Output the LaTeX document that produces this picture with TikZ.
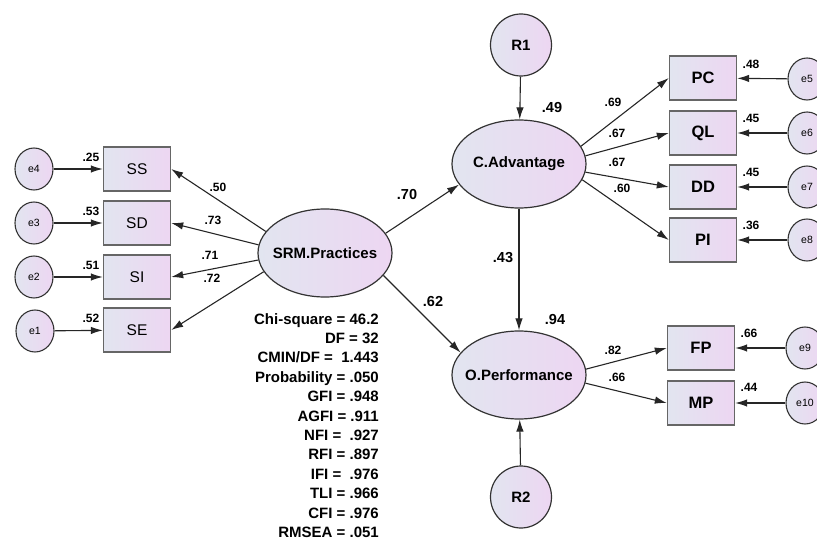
\documentclass[tikz,border=0pt]{standalone}
\usepackage{fontspec}
\setmainfont{Liberation Sans}
\usetikzlibrary{arrows.meta,shapes.geometric,positioning}
\definecolor{shadeL}{RGB}{226,229,240}
\definecolor{shadeR}{RGB}{237,214,242}
\tikzset{
    %Define standard arrow tip
    >={Latex[width=7.5pt,length=12pt]},
    %Define style for latent constructs
    latent/.style={
           ellipse,
           draw=black!80, line width=1.2pt,
           left color=shadeL, right color=shadeR,
           minimum width=134, minimum height=88,
           inner xsep=-10pt,
           font=\bfseries\fontsize{15}{18}\selectfont},
    resid/.style={
           ellipse,
           draw=black!80, line width=1.2pt,
           left color=shadeL, right color=shadeR,
           minimum width=61, minimum height=62,
           font=\bfseries\fontsize{15}{18}\selectfont},
    err/.style={
           ellipse,
           draw=black!80, line width=1.1pt,
           left color=shadeL, right color=shadeR,
           minimum width=38, minimum height=42, inner sep=0pt,
           font=\fontsize{10.5}{12}\selectfont},
    %Define style for indicator boxes
    ind/.style={
           rectangle,
           draw=black!60, line width=1.4pt,
           left color=shadeL, right color=shadeR,
           minimum width=67, minimum height=44,
           font=\fontsize{15.5}{18}\selectfont},
    indb/.style={
           ind,
           font=\bfseries\fontsize{16.5}{18}\selectfont},
    coef/.style={inner sep=1pt, font=\bfseries\fontsize{12}{14}\selectfont},
    coefbig/.style={inner sep=1pt, font=\bfseries\fontsize{14.5}{16}\selectfont},
    stats/.style={inner sep=0pt, align=right, font=\bfseries\fontsize{15}{19.4}\selectfont},
    % Define arrow style
    pil/.style={
           ->,
           draw=black!85,
           line width=1.1pt}
}
\begin{document}
\begin{tikzpicture}[x=1pt,y=-1pt]
 \useasboundingbox (0,0) rectangle (817,540);
 % latent constructs
 \node[latent] (srm) at (325,253) {SRM.Practices};
 \node[latent] (ca) at (519,164) {C.Advantage};
 \node[latent] (op) at (519,375) {O.Performance};
 \node[resid] (r1) at (521,45) {R1};
 \node[resid] (r2) at (521,497) {R2};
 % indicators
 \node[ind] (ss) at (137,169) {SS};
 \node[ind] (sd) at (137,223) {SD};
 \node[ind] (si) at (137,277) {SI};
 \node[ind] (se) at (137,330) {SE};
 \node[indb] (pc) at (703,78) {PC};
 \node[indb] (ql) at (703,133) {QL};
 \node[indb] (dd) at (703,187) {DD};
 \node[indb] (pi) at (703,240) {PI};
 \node[indb] (fp) at (701,348) {FP};
 \node[indb] (mp) at (701,403) {MP};
 % error terms
 \node[err] (e4) at (34,169) {e4};
 \node[err] (e3) at (34,223) {e3};
 \node[err] (e2) at (34,277) {e2};
 \node[err] (e1) at (35,331) {e1};
 \node[err] (e5) at (807,79) {e5};
 \node[err] (e6) at (807,133) {e6};
 \node[err] (e7) at (807,187) {e7};
 \node[err] (e8) at (807,240) {e8};
 \node[err] (e9) at (805,348) {e9};
 \node[err] (e10) at (805,403) {e10};
 % paths
 \draw[pil] (e4) -- (ss);
 \draw[pil] (e3) -- (sd);
 \draw[pil] (e2) -- (si);
 \draw[pil] (e1) -- (se);
 \draw[pil] (srm.160) -- (ss.east);
 \draw[pil] (srm.173) -- (sd.east);
 \draw[pil] (srm.186) -- (si.east);
 \draw[pil] (srm.197) -- (se.east);
 \draw[pil] (srm.18) -- (ca.199);
 \draw[pil] (srm.-21) -- (op.159);
 \draw[pil] (ca) -- (op);
 \draw[pil] (r1) -- (ca);
 \draw[pil] (r2) -- (op);
 \draw[pil] (ca.16) -- (pc.west);
 \draw[pil] (ca.7) -- (ql.west);
 \draw[pil] (ca.-7) -- (dd.west);
 \draw[pil] (ca.-14) -- (pi.west);
 \draw[pil] (op.5) -- (fp.west);
 \draw[pil] (op.-7) -- (mp.west);
 \draw[pil] (e5) -- (pc);
 \draw[pil] (e6) -- (ql);
 \draw[pil] (e7) -- (dd);
 \draw[pil] (e8) -- (pi);
 \draw[pil] (e9) -- (fp);
 \draw[pil] (e10) -- (mp);
 % estimates
 \node[coef] (r-ss) at (91,157) {.25};
 \node[coef] (r-sd) at (91,211) {.53};
 \node[coef] (r-si) at (91,265) {.51};
 \node[coef] (r-se) at (91,318) {.52};
 \node[coef] (l-ss) at (218,187) {.50};
 \node[coef] (l-sd) at (213,220) {.73};
 \node[coef] (l-si) at (210,255) {.71};
 \node[coef] (l-se) at (212,278) {.72};
 \node[coefbig] (b-ca) at (407,195) {.70};
 \node[coefbig] (b-op) at (433,302) {.62};
 \node[coefbig] (b-caop) at (503,258) {.43};
 \node[coefbig] (r-ca) at (552,108) {.49};
 \node[coefbig] (r-op) at (555,320) {.94};
 \node[coef] (l-pc) at (613,102) {.69};
 \node[coef] (l-ql) at (617,133) {.67};
 \node[coef] (l-dd) at (617,162) {.67};
 \node[coef] (l-pi) at (622,188) {.60};
 \node[coef] (l-fp) at (613,350) {.82};
 \node[coef] (l-mp) at (617,377) {.66};
 \node[coef] (r-pc) at (751,64) {.48};
 \node[coef] (r-ql) at (751,118) {.45};
 \node[coef] (r-dd) at (751,172) {.45};
 \node[coef] (r-pi) at (751,225) {.36};
 \node[coef] (r-fp) at (749,333) {.66};
 \node[coef] (r-mp) at (749,387) {.44};
 % model fit
 \node[stats, anchor=north east] (fit) at (379,313) {Chi-square = 46.2\\DF = 32\\CMIN/DF = \ 1.443\\Probability = .050\\GFI = .948\\AGFI = .911\\NFI = \ .927\\RFI = .897\\IFI = \ .976\\TLI = .966\\CFI = .976\\RMSEA = .051};
\end{tikzpicture}
\end{document}
